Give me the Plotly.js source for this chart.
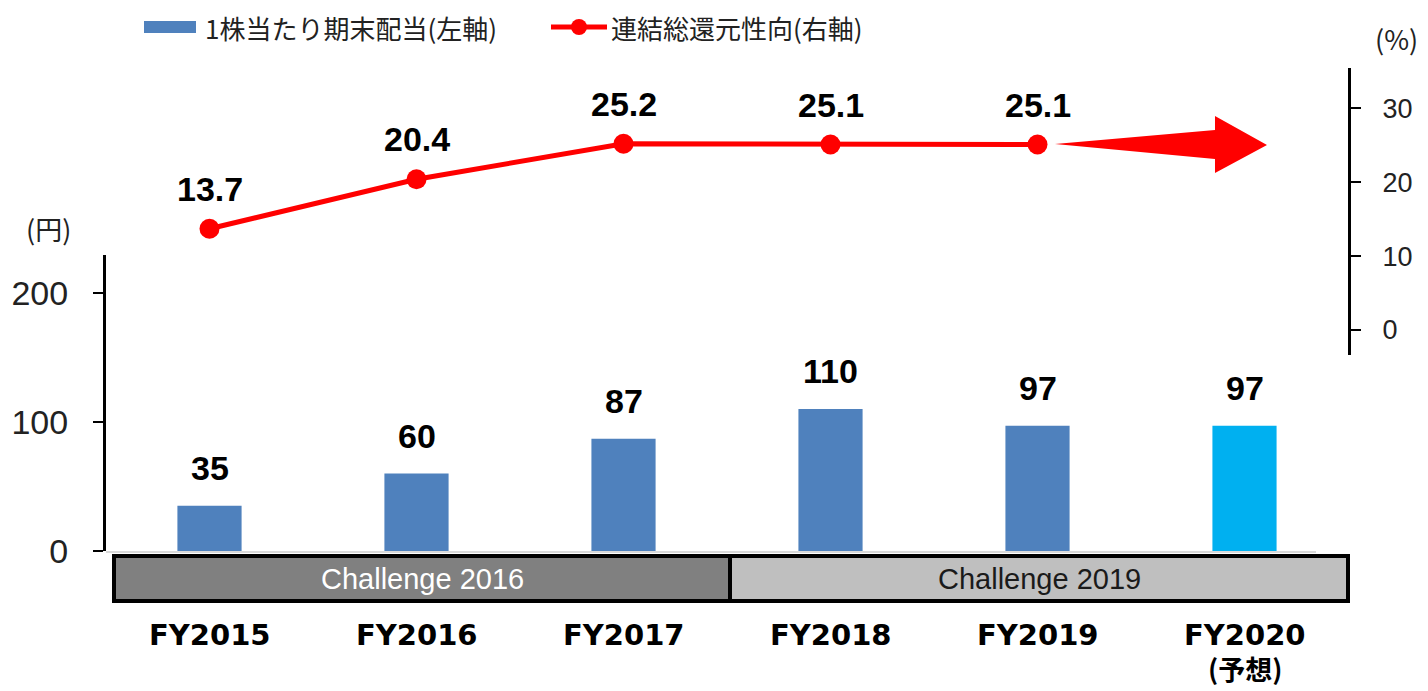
<!DOCTYPE html>
<html>
<head>
<meta charset="utf-8">
<script src="https://cdn.plot.ly/plotly-3.0.1.min.js"></script>
<style>html,body{margin:0;padding:0;background:#fff;}</style>
</head>
<body>
<div id="chart" style="width:1428px;height:691px;"></div>
<script>
// ---- data ----
const categories = ['FY2015', 'FY2016', 'FY2017', 'FY2018', 'FY2019', 'FY2020'];
const dividendPerShare = [35, 60, 87, 110, 97, 97];          // 円 (left axis)
const payoutCategories = ['FY2015', 'FY2016', 'FY2017', 'FY2018', 'FY2019'];
const totalPayoutRatio = [13.7, 20.4, 25.2, 25.1, 25.1];     // % (right axis)
const forecastNote = '(予想)';
const periodNames = ['Challenge 2016', 'Challenge 2019'];
const barName = '1株当たり期末配当(左軸)';
const lineName = '連結総還元性向(右軸)';
const leftTicks = [0, 100, 200];
const rightTicks = [0, 10, 20, 30];

// ---- geometry helpers (pixel -> paper) ----
const W = 1428, H = 691;
const M = {l: 106, r: 80, t: 68, b: 140};
const PW = W - M.l - M.r, PH = H - M.t - M.b;
const px = x => (x - M.l) / PW;
const py = y => (H - M.b - y) / PH;

const barColors = categories.map((c, i) => i === categories.length - 1 ? '#00B0F0' : '#4F81BD');

const traces = [
  {
    type: 'bar', name: barName, x: categories, y: dividendPerShare,
    xaxis: 'x', yaxis: 'y', width: 0.31,
    marker: {color: barColors}, showlegend: false, hoverinfo: 'x+y'
  },
  {
    type: 'scatter', mode: 'lines+markers', name: lineName,
    x: payoutCategories, y: totalPayoutRatio, xaxis: 'x', yaxis: 'y2',
    line: {color: '#FF0000', width: 5}, marker: {color: '#FF0000', size: 20},
    showlegend: false, cliponaxis: false
  }
];

const numFont = {family: 'Liberation Sans, Arial, sans-serif', size: 34, color: '#000'};
const annotations = [];
dividendPerShare.forEach((v, i) => annotations.push({
  x: categories[i], y: v, xref: 'x', yref: 'y', text: '<b>' + v + '</b>',
  showarrow: false, xanchor: 'center', yanchor: 'middle', yshift: 38, font: numFont
}));
totalPayoutRatio.forEach((v, i) => annotations.push({
  x: payoutCategories[i], y: v, xref: 'x', yref: 'y2', text: '<b>' + v.toFixed(1) + '</b>',
  showarrow: false, xanchor: 'center', yanchor: 'middle', yshift: 40, font: numFont
}));
categories.forEach(c => annotations.push({
  x: c, xref: 'x', y: py(635), yref: 'paper', text: '<b>' + c + '</b>',
  showarrow: false, xanchor: 'center', yanchor: 'middle',
  font: {family: 'DejaVu Sans, sans-serif', size: 29, color: '#000'}
}));
annotations.push({
  x: categories[categories.length - 1], xref: 'x', y: py(668), yref: 'paper',
  text: '<b>' + forecastNote + '</b>', showarrow: false, xanchor: 'center', yanchor: 'middle',
  font: {family: 'Noto Sans CJK JP, sans-serif', size: 27, color: '#000'}
});
// period band labels
annotations.push({
  x: (px(114) + px(730)) / 2, xref: 'paper', y: py(579), yref: 'paper',
  text: periodNames[0], showarrow: false, xanchor: 'center', yanchor: 'middle',
  font: {family: 'Liberation Sans, Arial, sans-serif', size: 29, color: '#FFFFFF'}
});
annotations.push({
  x: (px(730) + px(1348)) / 2, xref: 'paper', y: py(579), yref: 'paper',
  text: periodNames[1], showarrow: false, xanchor: 'center', yanchor: 'middle',
  font: {family: 'Liberation Sans, Arial, sans-serif', size: 29, color: '#1a1a1a'}
});
// unit labels
const jpFont = {family: 'Noto Sans CJK JP, sans-serif', size: 27, color: '#222'};
annotations.push({x: px(48), xref: 'paper', y: py(228), yref: 'paper', text: '(円)',
  showarrow: false, xanchor: 'center', yanchor: 'middle', font: jpFont});
annotations.push({x: px(1396), xref: 'paper', y: py(38), yref: 'paper', text: '(%)',
  showarrow: false, xanchor: 'center', yanchor: 'middle', font: jpFont});
// legend texts
annotations.push({x: px(203), xref: 'paper', y: py(28), yref: 'paper', text: barName,
  showarrow: false, xanchor: 'left', yanchor: 'middle', font: {...jpFont, size: 26}});
annotations.push({x: px(609), xref: 'paper', y: py(28), yref: 'paper', text: lineName,
  showarrow: false, xanchor: 'left', yanchor: 'middle', font: {...jpFont, size: 26}});

// arrow path
const arrowPts = [[1055,144],[1215,130],[1215,116],[1267,145],[1215,173],[1215,159]];
const arrowPath = 'M' + arrowPts.map(p => px(p[0]).toFixed(5) + ',' + py(p[1]).toFixed(5)).join(' L') + ' Z';

const shapes = [
  // baseline
  {type: 'line', xref: 'paper', yref: 'paper', x0: 0, x1: px(1316), y0: py(552), y1: py(552),
   line: {color: '#D9D9D9', width: 2}, layer: 'below'},
  // period bands
  {type: 'rect', xref: 'paper', yref: 'paper', x0: px(114), x1: px(730), y0: py(601), y1: py(556),
   fillcolor: '#808080', line: {color: '#000', width: 4}},
  {type: 'rect', xref: 'paper', yref: 'paper', x0: px(730), x1: px(1348), y0: py(601), y1: py(556),
   fillcolor: '#BFBFBF', line: {color: '#000', width: 4}},
  // arrow
  {type: 'path', xref: 'paper', yref: 'paper', path: arrowPath, fillcolor: '#FF0000', line: {width: 0}},
  // legend symbols
  {type: 'rect', xref: 'paper', yref: 'paper', x0: px(144), x1: px(196), y0: py(33), y1: py(21),
   fillcolor: '#4F81BD', line: {width: 0}},
  {type: 'line', xref: 'paper', yref: 'paper', x0: px(551), x1: px(607), y0: py(27), y1: py(27),
   line: {color: '#FF0000', width: 5}},
  {type: 'circle', xref: 'paper', yref: 'paper', xsizemode: 'pixel', ysizemode: 'pixel',
   xanchor: px(579), yanchor: py(27), x0: -8, x1: 8, y0: -8, y1: 8,
   fillcolor: '#FF0000', line: {width: 0}}
];

const layout = {
  width: W, height: H,
  margin: M,
  paper_bgcolor: '#FFFFFF', plot_bgcolor: '#FFFFFF',
  showlegend: false,
  xaxis: {
    type: 'category', range: [-0.5, 5.5], domain: [0, 1],
    showticklabels: false, ticks: '', showline: false, showgrid: false, zeroline: false, fixedrange: true
  },
  yaxis: {
    domain: [0, py(255)], range: [0, (551 - 255) / 1.29], anchor: 'x',
    tickvals: leftTicks, ticks: 'outside', ticklen: 10, tickwidth: 2, tickcolor: '#000',
    showline: true, linecolor: '#000', linewidth: 3, showgrid: false, zeroline: false,
    tickfont: {family: 'Liberation Sans, Arial, sans-serif', size: 34, color: '#222'},
    ticklabelstandoff: 18, fixedrange: true
  },
  yaxis2: {
    domain: [py(355), 1], range: [-3.38, 35.45], anchor: 'x', side: 'right',
    tickvals: rightTicks, ticks: 'outside', ticklen: 10, tickwidth: 2, tickcolor: '#000',
    showline: true, linecolor: '#000', linewidth: 3, showgrid: false, zeroline: false,
    tickfont: {family: 'Liberation Sans, Arial, sans-serif', size: 27, color: '#222'},
    ticklabelstandoff: 16, fixedrange: true
  },
  annotations: annotations,
  shapes: shapes
};

Plotly.newPlot('chart', traces, layout, {displayModeBar: false, staticPlot: true});
</script>
</body>
</html>
